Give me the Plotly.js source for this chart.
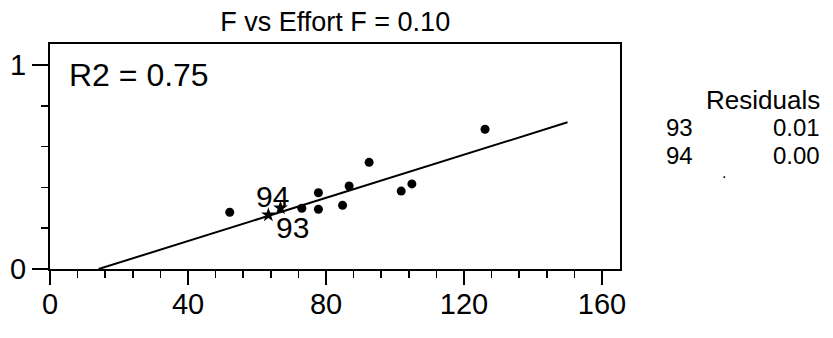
<!DOCTYPE html>
<html>
<head>
<meta charset="utf-8">
<script src="https://cdn.plot.ly/plotly-3.0.1.min.js"></script>
<style>html,body{margin:0;padding:0;background:#fff;}#chart{width:833px;height:338px;}</style>
</head>
<body>
<div id="chart"></div>
<script>
// Data
const effort = [52.1, 73.0, 77.8, 77.8, 84.8, 86.7, 92.5, 101.8, 104.9, 126.1];
const fValue = [0.278, 0.298, 0.374, 0.293, 0.312, 0.407, 0.523, 0.382, 0.417, 0.685];
const labelIds = ["93", "94"];
const labelEffort = [63.3, 66.8];
const labelF = [0.265, 0.299];
const fitX = [14.1, 150];
const fitY = [0, 0.719];
const residualIds = ["93", "94"];
const residualVals = ["0.01", "0.00"];
const xTicks = [0, 40, 80, 120, 160];
const yTicks = [0, 1];

const FONT = "Liberation Sans, Arial, Helvetica, sans-serif";
const L = 49.5, R = 620, T = 44, B = 269;
const px = x => (x - L) / (R - L);
const py = y => (B - y) / (B - T);

const traces = [
  {x: fitX, y: fitY, mode: 'lines', line: {color: '#000', width: 2}, hoverinfo: 'skip'},
  {x: effort, y: fValue, mode: 'markers', marker: {color: '#000', size: 9, symbol: 'circle'}},
  {x: labelEffort, y: labelF, mode: 'markers', marker: {color: '#000', size: 11, symbol: 'star'}}
];

const annotations = [
  {text: 'R2 = 0.75', xref: 'paper', yref: 'paper', x: px(67), y: py(75), xanchor: 'left', yanchor: 'middle', showarrow: false, font: {size: 32, color: '#000', family: FONT}},
  {text: labelIds[1], xref: 'x', yref: 'y', x: labelEffort[1], y: labelF[1], xanchor: 'center', yanchor: 'middle', showarrow: false, xshift: -8, yshift: 12, font: {size: 30, color: '#000', family: FONT}},
  {text: labelIds[0], xref: 'x', yref: 'y', x: labelEffort[0], y: labelF[0], xanchor: 'center', yanchor: 'middle', showarrow: false, xshift: 24, yshift: -13, font: {size: 30, color: '#000', family: FONT}},
  {text: 'Residuals', xref: 'paper', yref: 'paper', x: px(822), y: py(100), xanchor: 'right', yanchor: 'middle', showarrow: false, font: {size: 26, color: '#000', family: FONT}},
  {text: '.', xref: 'paper', yref: 'paper', x: px(724), y: py(172), xanchor: 'center', yanchor: 'middle', showarrow: false, font: {size: 16, color: '#000', family: FONT}}
];
residualIds.forEach((id, i) => {
  const yy = py(128 + i * 27);
  annotations.push({text: id, xref: 'paper', yref: 'paper', x: px(664), y: yy, xanchor: 'left', yanchor: 'middle', showarrow: false, font: {size: 24, color: '#000', family: FONT}});
  annotations.push({text: residualVals[i], xref: 'paper', yref: 'paper', x: px(822), y: yy, xanchor: 'right', yanchor: 'middle', showarrow: false, font: {size: 24, color: '#000', family: FONT}});
});

const layout = {
  width: 833, height: 338,
  margin: {l: L, r: 833 - R, t: T, b: 338 - B, pad: 0},
  paper_bgcolor: '#fff', plot_bgcolor: '#fff',
  showlegend: false,
  font: {family: FONT, size: 29, color: '#000'},
  title: {text: 'F vs Effort F = 0.10', x: px(335), xref: 'paper', xanchor: 'center', y: 1 - 22 / 338, yanchor: 'middle', font: {size: 27, color: '#000', family: FONT}},
  xaxis: {
    range: [0, (R - L) / 3.453], tickmode: 'array', tickvals: xTicks, ticktext: xTicks.map(String),
    showgrid: false, zeroline: false, showline: true, linecolor: '#000', linewidth: 2, mirror: true,
    ticks: 'outside', ticklen: 14, tickwidth: 2, tickcolor: '#000', ticklabelstandoff: -6,
    minor: {dtick: 8, tick0: 0, ticks: 'outside', ticklen: 7, tickwidth: 1.5, tickcolor: '#000', showgrid: false},
    tickfont: {size: 29, color: '#000', family: FONT}, fixedrange: true
  },
  yaxis: {
    range: [0, (B - T) / 204], tickmode: 'array', tickvals: yTicks, ticktext: yTicks.map(String),
    showgrid: false, zeroline: false, showline: true, linecolor: '#000', linewidth: 2, mirror: true,
    ticks: 'outside', ticklen: 16, tickwidth: 2, tickcolor: '#000',
    minor: {dtick: 0.2, tick0: 0, ticks: 'outside', ticklen: 7, tickwidth: 1.5, tickcolor: '#000', showgrid: false},
    tickfont: {size: 29, color: '#000', family: FONT}, fixedrange: true
  },
  annotations: annotations
};

Plotly.newPlot('chart', traces, layout, {displayModeBar: false, staticPlot: true});
</script>
</body>
</html>
